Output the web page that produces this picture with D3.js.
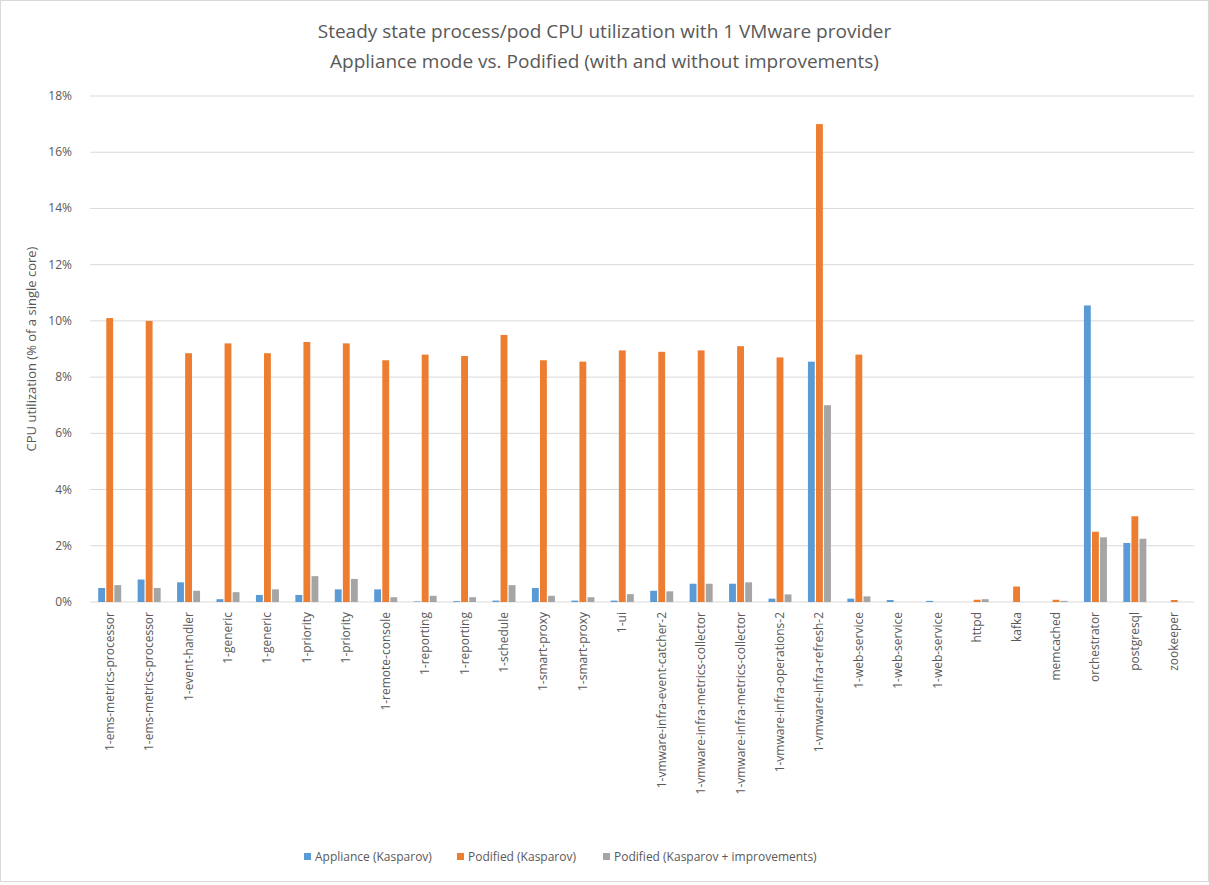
<!DOCTYPE html>
<html><head><meta charset="utf-8">
<script src="https://cdn.jsdelivr.net/npm/d3@7"></script>
<style>body{margin:0;background:#fff}text{font-family:"Open Sans",Calibri,sans-serif;fill:#595959}</style>
</head><body><svg></svg>
<script>
const categories = ["1-ems-metrics-processor","1-ems-metrics-processor","1-event-handler","1-generic","1-generic","1-priority","1-priority","1-remote-console","1-reporting","1-reporting","1-schedule","1-smart-proxy","1-smart-proxy","1-ui","1-vmware-infra-event-catcher-2","1-vmware-infra-metrics-collector","1-vmware-infra-metrics-collector","1-vmware-infra-operations-2","1-vmware-infra-refresh-2","1-web-service","1-web-service","1-web-service","httpd","kafka","memcached","orchestrator","postgresql","zookeeper"];
const appliance = [0.5,0.8,0.7,0.1,0.25,0.25,0.45,0.45,0.02,0.03,0.05,0.5,0.05,0.05,0.4,0.65,0.65,0.12,8.55,0.12,0.07,0.04,0,0,0,10.55,2.1,0];
const podified = [10.1,10.0,8.85,9.2,8.85,9.25,9.2,8.6,8.8,8.75,9.5,8.6,8.55,8.95,8.9,8.95,9.1,8.7,17.0,8.8,0,0,0.08,0.55,0.08,2.5,3.05,0.07];
const improved = [0.6,0.5,0.4,0.35,0.45,0.92,0.82,0.17,0.22,0.17,0.6,0.22,0.17,0.28,0.38,0.65,0.7,0.27,7.0,0.2,0,0,0.1,0,0.04,2.3,2.25,0];
const seriesNames = ["Appliance (Kasparov)","Podified (Kasparov)","Podified (Kasparov + improvements)"];
const colors = ["#5B9BD5","#ED7D31","#A5A5A5"];
const yTicks = [0,2,4,6,8,10,12,14,16,18];

const W = 1209, H = 885;
const m = {left: 90, right: 15, top: 96, bottom: 283};
const svg = d3.select("svg").attr("width", W).attr("height", H);
svg.append("rect").attr("x",0.5).attr("y",0.5).attr("width",W-1).attr("height",H-4).attr("fill","none").attr("stroke","#d9d9d9");

const x = d3.scaleBand().domain(d3.range(categories.length)).range([m.left, W - m.right]);
const y = d3.scaleLinear().domain([0,18]).range([H - m.bottom, m.top]);
const x1 = d3.scaleBand().domain([0,1,2]).range([x.bandwidth()/2 - 11.5, x.bandwidth()/2 + 11.5]).paddingInner(0.15);

svg.append("g").selectAll("line").data(yTicks).join("line")
  .attr("x1", m.left).attr("x2", W - m.right)
  .attr("y1", d => y(d)).attr("y2", d => y(d))
  .attr("stroke", "#d9d9d9");
svg.append("g").selectAll("text").data(yTicks).join("text")
  .attr("x", m.left - 18).attr("y", d => y(d) + 4).attr("text-anchor","end")
  .style("font-size","12px").text(d => d + "%");

const series = [appliance, podified, improved];
series.forEach((s, si) => {
  svg.append("g").selectAll("rect").data(s).join("rect")
    .attr("x", (d,i) => x(i) + x1(si)).attr("width", x1.bandwidth())
    .attr("y", d => y(d)).attr("height", d => y(0) - y(d))
    .attr("fill", colors[si]);
});

svg.append("g").selectAll("text").data(categories).join("text")
  .attr("transform", (d,i) => `translate(${x(i) + x.bandwidth()/2 + 4},${y(0) + 10}) rotate(-90)`)
  .attr("text-anchor","end").style("font-size","12px").text(d => d);

svg.append("text").attr("transform", `translate(36,${(m.top + H - m.bottom)/2}) rotate(-90)`)
  .attr("text-anchor","middle").style("font-size","13px").text("CPU utilization (% of a single core)");

svg.append("text").attr("x", W/2).attr("y", 38).attr("text-anchor","middle").style("font-size","19px")
  .text("Steady state process/pod CPU utilization with 1 VMware provider");
svg.append("text").attr("x", W/2).attr("y", 68).attr("text-anchor","middle").style("font-size","19px")
  .text("Appliance mode vs. Podified (with and without improvements)");

const legX = [304, 457, 603];
const leg = svg.append("g").selectAll("g").data(seriesNames).join("g")
  .attr("transform", (d,i) => `translate(${legX[i]},857)`);
leg.append("rect").attr("x",0).attr("y",-4).attr("width",7).attr("height",7).attr("fill",(d,i)=>colors[i]);
leg.append("text").attr("x",11).attr("y",4).style("font-size","12px").text(d => d);
</script></body></html>
